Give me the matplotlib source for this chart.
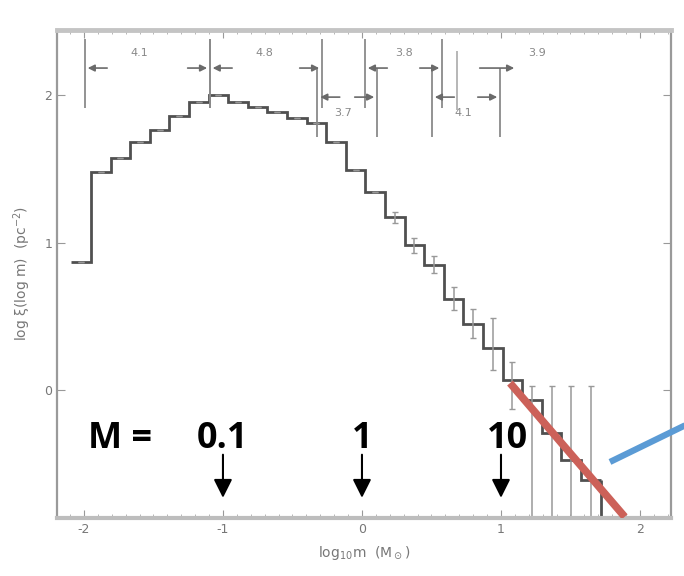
import numpy as np
import matplotlib.pyplot as plt

# histogram of log xi(log m)
log_m_start = -2.09
bin_w = 0.141
log_xi = [0.87, 1.48, 1.57, 1.68, 1.76, 1.86, 1.95, 2.00, 1.95, 1.92, 1.885, 1.845,
          1.81, 1.68, 1.49, 1.34, 1.17, 0.98, 0.85, 0.62, 0.45, 0.285, 0.07, -0.07,
          -0.29, -0.475, -0.61]
err_lo = [0] * 16 + [0.04, 0.05, 0.06, 0.08, 0.10, 0.15, 0.2, 0.8, 0.6, 0.45, 0.3]
err_hi = [0] * 16 + [0.04, 0.05, 0.06, 0.08, 0.10, 0.2, 0.12, 0.1, 0.32, 0.5, 0.64]

# range brackets along the top (x0, x1, row y, label, label x)
bracket_x0 = [-1.993, -1.094, 0.022, -0.32, 0.504]
bracket_x1 = [-1.094, -0.288, 0.576, 0.108, 0.993]
bracket_y = [2.183, 2.183, 2.183, 1.986, 1.986]
bracket_lab = ['4.1', '4.8', '3.8', '3.7', '4.1']
bracket_lx = [-1.6, -0.705, 0.302, -0.137, 0.727]

masses = [0.1, 1, 10]
mass_lab = ['0.1', '1', '10']
mass_lab_shift = [0, 0, 0.05]

red_x = [1.065, 1.89]
red_y = [0.047, -0.86]
blue_x = [1.784, 2.33]
blue_y = [-0.488, -0.237]

fig = plt.figure(figsize=(6.84, 5.76), dpi=100)
ax = fig.add_axes([0.0833, 0.1007, 0.8977, 0.8472])
ax.set_xlim(-2.194, 2.223)
ax.set_ylim(-0.868, 2.441)

edges = log_m_start + bin_w * np.arange(len(log_xi) + 1)
centers = edges[:-1] + bin_w / 2
ax.stairs(log_xi, edges, baseline=None, color='#505050', lw=2)
ax.vlines(edges[-1], -0.868, log_xi[-1], color='#505050', lw=2)
ax.errorbar(centers, log_xi, yerr=[err_lo, err_hi], fmt='none', ecolor='#999999',
            elinewidth=1.1, capsize=2.5)

# top brackets
gray = '#6a6a6a'
d = 0.18
for x0, x1, y, lab, lx in zip(bracket_x0, bracket_x1, bracket_y, bracket_lab, bracket_lx):
    ax.vlines([x0, x1], y - 0.27, y + 0.2, color='#8a8a8a', lw=1.3)
    ax.annotate('', xy=(x0, y), xytext=(x0 + d, y),
                arrowprops=dict(arrowstyle='-|>', color=gray, lw=1.2, mutation_scale=10))
    ax.annotate('', xy=(x1, y), xytext=(x1 - d, y),
                arrowprops=dict(arrowstyle='-|>', color=gray, lw=1.2, mutation_scale=10))
    ty = y + 0.1 if y > 2.1 else y - 0.11
    ax.text(lx, ty, lab, color='#888', fontsize=8, ha='center', va='center')
ax.vlines(0.683, 1.9, 2.3, color='#aaa', lw=1.2)
ax.annotate('', xy=(1.115, 2.183), xytext=(0.827, 2.183),
            arrowprops=dict(arrowstyle='-|>', color=gray, lw=1.2, mutation_scale=10))
ax.text(1.26, 2.285, '3.9', color='#888', fontsize=8, ha='center', va='center')

# axes styling, like a faded scan
for s in ax.spines.values():
    s.set_color('#9a9a9a')
    s.set_linewidth(1.6)
ax.spines['top'].set_linewidth(3.5)
ax.spines['top'].set_color('#c4c4c4')
ax.spines['bottom'].set_linewidth(3)
ax.spines['bottom'].set_color('#bdbdbd')
ax.set_xticks([-2, -1, 0, 1, 2])
ax.set_xticklabels(['-2', '-1', '0', '1', '2'])
ax.set_xticks(np.arange(-2.1, 2.2, 0.1), minor=True)
ax.set_yticks([0, 1, 2])
ax.tick_params(direction='in', top=True, right=True, color='#999', labelcolor='#777',
               labelsize=9, length=6)
ax.tick_params(which='minor', direction='in', top=True, color='#aaa', length=3)
ax.set_xlabel('log$_{10}$m  (M$_\\odot$)', color='#777', fontsize=10, labelpad=6)
ax.set_ylabel('log ξ(log m)  (pc$^{-2}$)', color='#777', fontsize=10, labelpad=8)

# overlay: mass markers
lm = np.log10(masses)
ax.text(-1.971, -0.393, 'M =', fontsize=26, fontweight='bold', family='Open Sans',
        ha='left', va='baseline', color='black')
for x, lab, sh in zip(lm, mass_lab, mass_lab_shift):
    ax.text(x + sh, -0.393, lab, fontsize=26, fontweight='bold', family='Open Sans',
            ha='center', va='baseline', color='black')
    ax.annotate('', xy=(x, -0.75), xytext=(x, -0.42),
                arrowprops=dict(arrowstyle='-|>', color='black', lw=1.5, mutation_scale=28))

ax.plot(red_x, red_y, color='#cc6159', lw=5.5, solid_capstyle='butt', zorder=5)
ax.plot(blue_x, blue_y, color='#5b9bd5', lw=4.5, solid_capstyle='butt', zorder=5,
        clip_on=False)

fig.savefig('out.png', dpi=100)
